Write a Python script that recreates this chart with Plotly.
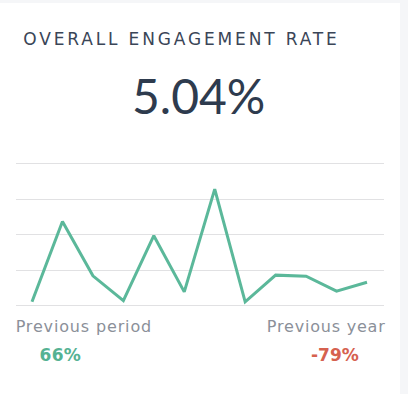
import plotly.graph_objects as go

# Data
periods = list(range(1, 13))
engagement = [0.22, 4.74, 1.68, 0.28, 3.94, 0.78, 6.56, 0.22, 1.72, 1.66, 0.82, 1.32]
y_ticks = [0, 2, 4, 6, 8]
title_text = "OVERALL ENGAGEMENT RATE"
kpi_value = "5.04%"
prev_period_label = "Previous period"
prev_period_change = "66%"
prev_year_label = "Previous year"
prev_year_change = "-79%"

W, H = 408, 394
ML, MR, MT, MB = 16, 24, 150, 80
PW, PH = W - ML - MR, H - MT - MB

def px(x):
    return (x - ML) / PW

def py(y):
    return (H - MB - y) / PH

GREEN = "#5bb89a"
FONT = "DejaVu Sans"

fig = go.Figure()
fig.add_trace(go.Scatter(
    x=periods, y=engagement, mode="lines",
    line=dict(color=GREEN, width=3), hoverinfo="skip", showlegend=False,
))

fig.update_layout(
    width=W, height=H,
    margin=dict(l=ML, r=MR, t=MT, b=MB),
    paper_bgcolor="#f5f6f8", plot_bgcolor="white",
    xaxis=dict(range=[1 - 16 / 30.45, 12 + 17 / 30.45], showgrid=False, zeroline=False,
               showticklabels=False, ticks=""),
    yaxis=dict(range=[-0.467, 8.76], tickvals=y_ticks, showgrid=True, gridcolor="#e1e1e3",
               gridwidth=1.3, zeroline=False, showticklabels=False, ticks=""),
    shapes=[dict(type="rect", xref="paper", yref="paper", x0=px(0), x1=px(400),
                 y0=py(394), y1=py(3), fillcolor="white", line=dict(width=0), layer="below")],
)

anns = [
    dict(text=title_text, x=px(181), y=py(39), xanchor="center", yanchor="middle",
         font=dict(family=FONT, size=17, color="#3a4557")),
    dict(text=kpi_value, x=px(198), y=py(96), xanchor="center", yanchor="middle",
         font=dict(family="Lato", size=48, color="#2e3b4e", weight=400)),
    dict(text=prev_period_label, x=px(83.5), y=py(326), xanchor="center", yanchor="middle",
         font=dict(family=FONT, size=16, color="#8b9099")),
    dict(text=prev_year_label, x=px(326), y=py(326), xanchor="center", yanchor="middle",
         font=dict(family=FONT, size=16, color="#8b9099")),
    dict(text="<b>" + prev_period_change + "</b>", x=px(60.5), y=py(355), xanchor="center", yanchor="middle",
         font=dict(family=FONT, size=17, color="#55b293")),
    dict(text="<b>" + prev_year_change + "</b>", x=px(335), y=py(355), xanchor="center", yanchor="middle",
         font=dict(family=FONT, size=17, color="#d6614f")),
]
for a in anns:
    a.update(xref="paper", yref="paper", showarrow=False)
fig.update_layout(annotations=anns)

post = """
document.body.style.margin = '0';
var gd = document.getElementById('{plot_id}');
var sp = {0: 2.85, 2: 0.85, 3: 0.8, 4: 0.4};
Object.keys(sp).forEach(function (k) {
  var t = gd.querySelector('g.annotation[data-index="' + k + '"] text.annotation-text');
  if (t) { t.style.letterSpacing = sp[k] + 'px'; }
});
"""

fig.write_html("out.html", config={"displayModeBar": False}, post_script=post)
